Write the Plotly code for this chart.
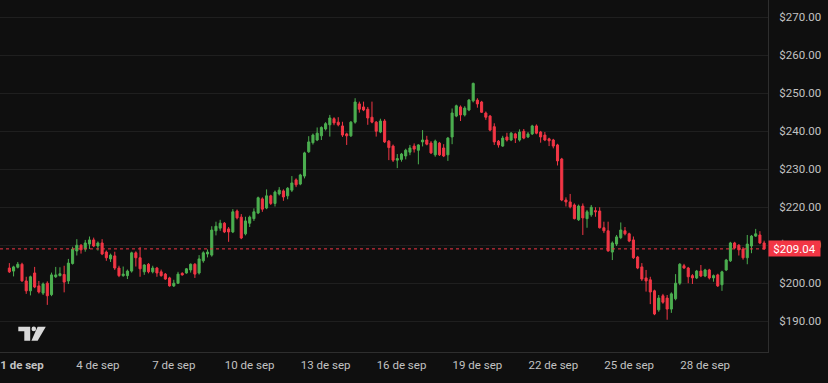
import pandas as pd
import plotly.graph_objects as go

# 4-hour candles, 31 Aug 12:00 -> 30 Sep 08:00
start_time = "2024-08-31 12:00"
opens = [204.0, 203.2, 204.2, 205.0, 200.6, 198.0, 202.7, 199.3, 197.4, 200.0,
         197.0, 201.7, 202.0, 202.3, 200.6, 205.2, 208.5, 210.0, 209.0, 210.3,
         211.4, 209.8, 210.6, 208.2, 206.4, 207.2, 204.0, 202.0, 202.0, 203.2,
         208.0, 206.7, 203.0, 205.0, 203.0, 204.0, 203.0, 202.4, 201.4, 199.3,
         200.0, 202.6, 202.7, 203.5, 205.0, 202.7, 205.9, 207.7, 207.4, 213.8,
         214.5, 215.8, 214.3, 213.5, 219.0, 217.4, 213.0, 215.8, 217.0, 218.5,
         222.2, 219.8, 223.0, 221.0, 223.5, 224.3, 223.0, 224.5, 227.2, 226.1,
         228.2, 234.6, 237.0, 237.7, 238.8, 240.6, 241.7, 243.3, 242.4, 241.4,
         239.3, 238.8, 242.4, 247.2, 246.4, 245.8, 243.7, 242.4, 239.8, 242.7,
         237.4, 236.1, 232.4, 232.6, 233.5, 234.5, 236.1, 235.0, 237.2, 237.7,
         236.9, 233.8, 236.9, 235.6, 233.8, 238.5, 244.0, 246.4, 244.3, 245.6,
         248.0, 248.2, 247.7, 244.8, 244.0, 241.2, 237.4, 236.1, 238.5, 237.7,
         239.3, 237.7, 240.0, 238.5, 239.3, 241.4, 239.8, 239.0, 238.0, 237.7,
         236.4, 232.7, 221.9, 221.4, 220.6, 216.7, 220.3, 217.0, 218.0, 219.1,
         219.0, 214.6, 213.8, 208.2, 210.3, 212.0, 213.8, 213.0, 211.4, 206.9,
         204.3, 201.4, 200.9, 198.0, 193.0, 196.7, 196.1, 193.2, 195.9, 200.0,
         204.6, 204.0, 202.0, 201.4, 203.2, 201.9, 203.5, 201.4, 202.2, 199.6,
         203.5, 205.9, 210.6, 210.0, 209.0, 206.7, 209.8, 212.4, 212.7, 210.6]
highs = [205.3, 204.6, 205.6, 205.4, 201.7, 202.0, 204.3, 200.6, 200.2, 200.5,
         202.8, 204.3, 204.2, 204.6, 206.4, 209.6, 211.6, 210.3, 211.4, 212.3,
         212.0, 211.0, 211.6, 208.6, 207.8, 208.3, 204.6, 204.4, 203.6, 208.3,
         208.4, 209.5, 205.0, 205.3, 204.6, 204.3, 203.6, 202.7, 201.7, 200.9,
         203.0, 202.9, 204.0, 205.2, 205.3, 207.4, 208.4, 208.9, 215.0, 216.2,
         216.7, 216.1, 214.8, 219.5, 219.4, 218.2, 217.5, 217.8, 219.7, 222.8,
         222.6, 224.7, 223.3, 224.4, 225.3, 224.7, 225.3, 228.2, 227.6, 228.8,
         234.6, 238.7, 239.4, 241.0, 241.3, 242.4, 244.3, 243.7, 243.7, 242.5,
         239.6, 242.7, 248.7, 247.8, 247.8, 246.4, 247.8, 242.7, 243.3, 243.2,
         237.7, 236.5, 234.0, 234.3, 235.4, 236.4, 236.8, 236.6, 240.3, 238.8,
         237.4, 237.8, 237.2, 236.6, 238.5, 246.0, 247.0, 246.8, 246.6, 248.5,
         252.8, 248.7, 248.0, 245.2, 244.3, 242.1, 237.7, 238.8, 239.6, 239.8,
         239.6, 240.5, 240.6, 239.8, 241.7, 241.8, 240.1, 239.8, 238.3, 238.0,
         236.7, 233.0, 222.6, 223.5, 221.0, 220.7, 221.0, 219.3, 220.6, 220.0,
         220.0, 216.2, 216.2, 211.0, 212.7, 216.0, 214.8, 213.3, 212.3, 207.2,
         205.3, 203.5, 201.7, 198.3, 196.9, 197.2, 196.9, 197.6, 202.4, 205.3,
         205.1, 204.3, 202.4, 203.5, 204.8, 203.8, 203.8, 202.3, 202.5, 203.3,
         206.4, 210.9, 210.9, 210.3, 209.5, 212.7, 212.7, 214.3, 213.7, 211.2]
lows = [202.7, 201.8, 203.9, 200.4, 197.2, 196.8, 198.7, 197.3, 196.9, 194.3,
        196.6, 201.4, 201.8, 197.6, 199.8, 204.9, 207.3, 207.8, 208.3, 209.0,
        209.5, 208.6, 207.4, 205.9, 205.6, 203.5, 201.6, 201.7, 201.1, 202.8,
        204.4, 201.7, 202.2, 202.6, 202.6, 201.7, 201.7, 200.9, 199.1, 199.0,
        199.8, 202.0, 202.5, 202.8, 201.4, 202.3, 205.4, 206.8, 207.0, 212.6,
        213.8, 213.2, 210.9, 213.2, 216.8, 211.6, 212.6, 214.8, 216.4, 218.2,
        218.8, 219.5, 220.6, 220.2, 223.1, 221.7, 222.1, 224.0, 225.3, 225.8,
        227.6, 234.3, 236.5, 237.4, 237.7, 240.2, 238.6, 241.6, 241.3, 238.5,
        236.4, 238.5, 242.0, 244.9, 245.3, 241.7, 242.1, 238.6, 239.5, 236.9,
        232.4, 231.9, 230.3, 232.0, 232.6, 233.7, 234.4, 231.3, 236.0, 236.3,
        234.0, 233.3, 233.5, 233.2, 232.2, 236.6, 243.7, 242.7, 243.9, 245.3,
        247.6, 246.2, 244.8, 243.0, 240.0, 236.4, 235.7, 235.9, 237.3, 237.4,
        236.9, 237.3, 237.9, 238.2, 239.0, 239.2, 237.0, 237.4, 236.1, 235.5,
        231.0, 221.6, 220.2, 219.7, 216.8, 216.4, 212.7, 214.6, 217.5, 217.5,
        214.4, 213.2, 208.3, 206.1, 209.8, 211.6, 212.6, 210.8, 206.4, 203.7,
        200.6, 197.8, 194.5, 191.6, 192.5, 194.6, 190.4, 192.2, 195.5, 199.5,
        203.8, 200.0, 199.8, 201.1, 201.6, 201.6, 201.0, 200.4, 199.0, 198.0,
        203.2, 205.6, 209.0, 207.3, 206.2, 205.0, 207.9, 212.2, 210.3, 208.8]
closes = [203.0, 204.3, 205.0, 200.6, 198.0, 201.7, 199.0, 197.7, 199.8, 196.7,
          202.2, 202.2, 202.5, 200.3, 205.3, 209.0, 210.0, 208.8, 210.6, 211.4,
          209.8, 210.6, 207.7, 206.7, 207.4, 204.0, 202.0, 202.4, 203.2, 208.0,
          206.7, 203.8, 204.8, 203.0, 204.0, 202.7, 202.0, 201.1, 199.3, 200.0,
          202.4, 202.2, 203.8, 205.0, 202.4, 206.4, 208.0, 208.2, 214.0, 215.0,
          215.8, 213.5, 213.5, 218.8, 217.2, 211.9, 216.4, 217.4, 218.8, 222.5,
          219.5, 223.0, 221.0, 224.0, 224.5, 222.7, 225.0, 226.4, 225.9, 228.5,
          234.3, 237.2, 239.0, 239.5, 241.0, 242.0, 243.5, 242.2, 241.7, 239.0,
          238.8, 242.4, 247.7, 245.8, 245.6, 243.5, 242.4, 240.0, 242.7, 237.2,
          235.7, 232.4, 232.8, 234.0, 235.0, 235.6, 235.3, 236.4, 237.7, 236.6,
          234.3, 237.4, 233.8, 233.5, 238.2, 244.8, 246.7, 244.3, 246.1, 248.2,
          252.6, 247.2, 245.0, 243.7, 240.3, 237.2, 236.4, 238.2, 237.7, 239.5,
          238.2, 239.8, 238.2, 239.3, 241.4, 239.5, 238.5, 237.7, 237.5, 236.1,
          232.2, 221.9, 221.4, 220.1, 217.0, 220.3, 217.2, 218.8, 220.0, 218.8,
          214.6, 213.8, 208.5, 210.6, 212.2, 214.0, 213.0, 211.1, 206.7, 204.0,
          201.1, 200.6, 197.7, 191.9, 196.1, 195.0, 193.2, 197.2, 200.0, 205.0,
          204.0, 201.7, 201.4, 203.2, 201.9, 203.5, 201.4, 202.0, 199.3, 203.0,
          206.1, 210.6, 209.3, 208.8, 206.7, 210.3, 212.4, 213.0, 210.6, 209.04]
last_price = 209.04
tick_days = [1, 4, 7, 10, 13, 16, 19, 22, 25, 28]
tick_labels = ["1 de sep", "4 de sep", "7 de sep", "10 de sep", "13 de sep",
               "16 de sep", "19 de sep", "22 de sep", "25 de sep", "28 de sep"]
price_ticks = [190, 200, 210, 220, 230, 240, 250, 260, 270]
price_labels = ["$190.00", "$200.00", "$210.00", "$220.00", "$230.00",
                "$240.00", "$250.00", "$260.00", "$270.00"]

times = pd.date_range(start_time, periods=len(closes), freq="4h")

BG = "#0f0f0f"
UP = "#4caf50"
DOWN = "#f23645"
GRID = "#1f1f1f"
AXIS = "#2e2e2e"
TXT = "#c2c2c2"

fig = go.Figure()
fig.add_trace(go.Candlestick(
    x=times, open=opens, high=highs, low=lows, close=closes,
    increasing=dict(line=dict(color=UP, width=1), fillcolor=UP),
    decreasing=dict(line=dict(color=DOWN, width=1), fillcolor=DOWN),
    whiskerwidth=0, hoverinfo="skip", showlegend=False,
))

sep1 = pd.Timestamp("2024-09-01")
PX_PER_DAY = 25.3
PLOT_W = 768
PLOT_H = 352
x_start = sep1 - pd.Timedelta(days=22 / PX_PER_DAY)
x_end = sep1 + pd.Timedelta(days=(PLOT_W - 22) / PX_PER_DAY)
tick_vals = [sep1 + pd.Timedelta(days=d - 1) for d in tick_days]
tick_text = [("<b>%s</b>" % t) if i == 0 else t for i, t in enumerate(tick_labels)]

fig.update_layout(
    width=828, height=383,
    margin=dict(l=0, r=60, t=0, b=31, autoexpand=False),
    paper_bgcolor=BG, plot_bgcolor=BG,
    font=dict(family="Roboto, 'Noto Sans', sans-serif", color=TXT, size=11),
    xaxis=dict(
        type="date", range=[x_start, x_end], rangeslider=dict(visible=False),
        tickvals=tick_vals, ticktext=tick_text, showgrid=False, zeroline=False,
        showline=True, linecolor=AXIS, linewidth=1, ticks="",
        tickfont=dict(size=11.5, color=TXT), ticklabelstandoff=2,
        fixedrange=True, automargin=False,
    ),
    yaxis=dict(
        side="right", range=[181.9, 274.55], tickvals=price_ticks,
        ticktext=price_labels, showgrid=True, gridcolor=GRID,
        gridwidth=1, zeroline=False, showline=True, linecolor=AXIS,
        linewidth=1, ticks="", ticklabelstandoff=8,
        tickfont=dict(size=11.5, color=TXT), fixedrange=True, automargin=False,
    ),
)

# last price dotted line
fig.add_shape(type="line", xref="paper", yref="y", x0=0, x1=1,
              y0=last_price, y1=last_price,
              line=dict(color=DOWN, width=1, dash="dot"))
# last price label
fig.add_annotation(xref="paper", yref="y", x=1, y=last_price, xanchor="left",
                   yanchor="middle", text="$%.2f" % last_price, showarrow=False,
                   bgcolor=DOWN, font=dict(color="#ffffff", size=11.5),
                   width=49, height=13, borderpad=1, align="center")

# TradingView logo (decoration) drawn in pixel space
def p(px, py):
    return px / PLOT_W, (PLOT_H - py) / PLOT_H

def path(points):
    s = ""
    for k, (a, b) in enumerate(points):
        X, Y = p(a, b)
        s += ("M" if k == 0 else "L") + " %.5f %.5f " % (X, Y)
    return s + "Z"

LOGO = "#d9d9d9"
fig.add_shape(type="path", xref="paper", yref="paper", layer="above",
              path=path([(18.3, 326.7), (30.2, 326.7), (30.2, 340.8), (24.3, 340.8),
                         (24.3, 331.2), (18.3, 331.2)]),
              fillcolor=LOGO, line=dict(width=0))
cx0, cy0 = p(31.5, 326.6)
cx1, cy1 = p(36.1, 331.2)
fig.add_shape(type="circle", xref="paper", yref="paper", layer="above",
              x0=cx0, y0=cy0, x1=cx1, y1=cy1, fillcolor=LOGO, line=dict(width=0))
fig.add_shape(type="path", xref="paper", yref="paper", layer="above",
              path=path([(37.6, 326.7), (45.8, 326.7), (37.6, 340.8), (31.4, 340.8)]),
              fillcolor=LOGO, line=dict(width=0))

fig.write_html("out.html", config={"displayModeBar": False},
               post_script="document.body.style.margin='0';document.body.style.background='%s';" % BG)
